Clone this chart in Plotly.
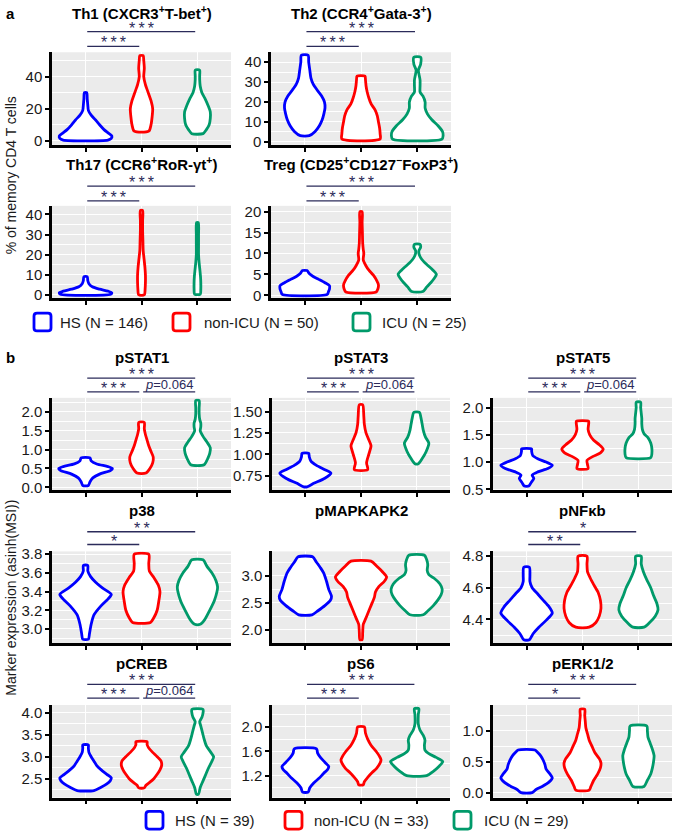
import plotly.graph_objects as go

W, H = 673, 839
groups = ["HS", "non-ICU", "ICU"]
colors = ["#0000FF", "#FF0000", "#009A6A"]
legend_a = ["HS (N = 146)", "non-ICU (N = 50)", "ICU (N = 25)"]
legend_b = ["HS (N = 39)", "non-ICU (N = 33)", "ICU (N = 29)"]

# ---- violin profiles: y levels and half-widths (category units) ----
th1_y = [[0.5, 1.5, 3, 5, 7, 10, 13, 16, 19, 22, 26, 30],
         [6, 10, 15, 20, 25, 30, 35, 40, 45, 50, 53],
         [4.5, 7, 10, 14, 18, 22, 26, 30, 34, 38, 41, 44]]
th1_w = [[0.40, 0.46, 0.47, 0.40, 0.33, 0.25, 0.18, 0.10, 0.05, 0.04, 0.03, 0.02],
         [0.13, 0.17, 0.19, 0.20, 0.17, 0.12, 0.07, 0.04, 0.05, 0.04, 0.03],
         [0.10, 0.16, 0.21, 0.23, 0.23, 0.19, 0.14, 0.08, 0.05, 0.04, 0.04, 0.04]]
th2_y = [[3, 5, 8, 11, 14, 17, 20, 23, 26, 29, 32, 36, 40, 43.5],
         [1.3, 4, 7, 10, 13, 16, 19, 22, 25, 28, 31, 33],
         [1.3, 3, 5, 8, 11, 14, 17, 20, 23, 25, 28, 31, 34, 36, 39, 42.5]]
th2_w = [[0.08, 0.18, 0.26, 0.31, 0.34, 0.36, 0.35, 0.30, 0.22, 0.15, 0.11, 0.09, 0.07, 0.06],
         [0.34, 0.34, 0.33, 0.31, 0.29, 0.25, 0.18, 0.14, 0.11, 0.09, 0.08, 0.07],
         [0.44, 0.46, 0.45, 0.37, 0.26, 0.18, 0.14, 0.14, 0.10, 0.05, 0.05, 0.05, 0.03, 0.02, 0.06, 0.06]]
th17_y = [[0.3, 1, 1.8, 2.8, 4, 5.5, 7, 9],
          [0, 3, 6, 10, 14, 18, 22, 27, 32, 37, 42],
          [0.3, 3, 6, 9, 12, 16, 20, 25, 30, 36]]
th17_w = [[0.45, 0.47, 0.40, 0.25, 0.12, 0.06, 0.04, 0.03],
          [0.05, 0.065, 0.07, 0.07, 0.06, 0.045, 0.03, 0.025, 0.02, 0.02, 0.02],
          [0.05, 0.06, 0.06, 0.055, 0.045, 0.03, 0.02, 0.02, 0.02, 0.015]]
treg_y = [[0.2, 0.8, 1.5, 2.3, 3, 3.8, 4.5, 5.2, 5.9],
          [0.8, 1.5, 2.5, 3.5, 4.8, 6, 7, 8.5, 10, 11, 12.5, 15, 17.5, 20],
          [0.9, 2, 3, 4, 5, 6, 7, 8, 9, 10, 10.7, 11.5, 12.2]]
treg_w = [[0.40, 0.42, 0.44, 0.44, 0.36, 0.25, 0.15, 0.08, 0.04],
          [0.27, 0.30, 0.31, 0.28, 0.22, 0.14, 0.09, 0.04, 0.05, 0.04, 0.03, 0.025, 0.02, 0.02],
          [0.10, 0.17, 0.24, 0.30, 0.34, 0.28, 0.20, 0.12, 0.06, 0.03, 0.03, 0.06, 0.05]]
pstat1_y = [[0.05, 0.15, 0.25, 0.35, 0.45, 0.5, 0.55, 0.62, 0.7, 0.78],
            [0.38, 0.5, 0.65, 0.8, 0.95, 1.1, 1.25, 1.4, 1.55, 1.72],
            [0.6, 0.75, 0.9, 1.05, 1.2, 1.35, 1.5, 1.6, 1.7, 1.8, 1.95, 2.1, 2.3]]
pstat1_w = [[0.05, 0.08, 0.13, 0.25, 0.45, 0.48, 0.40, 0.20, 0.10, 0.08],
            [0.08, 0.15, 0.20, 0.21, 0.17, 0.13, 0.10, 0.07, 0.05, 0.05],
            [0.12, 0.18, 0.22, 0.23, 0.17, 0.10, 0.05, 0.06, 0.06, 0.04, 0.03, 0.03, 0.03]]
pstat3_y = [[0.62, 0.66, 0.72, 0.78, 0.82, 0.87, 0.92, 0.97, 1.01],
            [0.82, 0.9, 1.0, 1.1, 1.17, 1.25, 1.35, 1.45, 1.58],
            [0.89, 0.95, 1.03, 1.13, 1.2, 1.28, 1.35, 1.42, 1.49]]
pstat3_w = [[0.03, 0.15, 0.35, 0.46, 0.35, 0.20, 0.10, 0.07, 0.06],
            [0.12, 0.10, 0.14, 0.18, 0.14, 0.09, 0.06, 0.05, 0.03],
            [0.03, 0.10, 0.17, 0.22, 0.16, 0.12, 0.10, 0.08, 0.05]]
pstat5_y = [[0.56, 0.62, 0.7, 0.76, 0.82, 0.88, 0.94, 1.0, 1.06, 1.12, 1.2, 1.24],
            [0.88, 0.95, 1.03, 1.1, 1.17, 1.24, 1.32, 1.4, 1.5, 1.6, 1.7, 1.75],
            [1.08, 1.15, 1.25, 1.35, 1.45, 1.52, 1.6, 1.7, 1.8, 1.9, 2.0, 2.1]]
pstat5_w = [[0.04, 0.08, 0.13, 0.10, 0.20, 0.38, 0.46, 0.35, 0.20, 0.11, 0.09, 0.09],
            [0.10, 0.09, 0.08, 0.18, 0.32, 0.37, 0.30, 0.20, 0.13, 0.10, 0.11, 0.11],
            [0.22, 0.24, 0.24, 0.22, 0.17, 0.10, 0.07, 0.06, 0.06, 0.05, 0.04, 0.04]]
p38_y = [[2.89, 2.95, 3.05, 3.15, 3.25, 3.32, 3.37, 3.44, 3.5, 3.56, 3.62, 3.68],
         [3.07, 3.12, 3.2, 3.3, 3.4, 3.47, 3.55, 3.62, 3.7, 3.8],
         [3.05, 3.1, 3.2, 3.3, 3.4, 3.45, 3.52, 3.6, 3.67, 3.74]]
p38_w = [[0.05, 0.07, 0.10, 0.15, 0.28, 0.40, 0.46, 0.30, 0.18, 0.09, 0.04, 0.04],
         [0.16, 0.22, 0.28, 0.31, 0.33, 0.30, 0.22, 0.14, 0.13, 0.13],
         [0.05, 0.13, 0.22, 0.30, 0.35, 0.36, 0.33, 0.26, 0.17, 0.10]]
mk2_y = [[2.28, 2.35, 2.45, 2.55, 2.62, 2.75, 2.9, 3.05, 3.15, 3.25, 3.35],
         [1.82, 1.95, 2.1, 2.2, 2.3, 2.4, 2.5, 2.6, 2.7, 2.8, 2.9, 2.98, 3.08, 3.18, 3.27],
         [2.28, 2.35, 2.45, 2.55, 2.65, 2.75, 2.85, 2.95, 3.02, 3.1, 3.2, 3.3, 3.38]]
mk2_w = [[0.12, 0.22, 0.35, 0.45, 0.47, 0.42, 0.38, 0.33, 0.27, 0.20, 0.13],
         [0.02, 0.03, 0.04, 0.08, 0.12, 0.16, 0.20, 0.24, 0.26, 0.32, 0.42, 0.46, 0.38, 0.28, 0.18],
         [0.12, 0.20, 0.30, 0.38, 0.44, 0.46, 0.42, 0.32, 0.22, 0.19, 0.20, 0.18, 0.14]]
nfkb_y = [[4.27, 4.31, 4.35, 4.39, 4.44, 4.48, 4.52, 4.56, 4.6, 4.64, 4.68, 4.73],
          [4.35, 4.38, 4.42, 4.47, 4.52, 4.57, 4.62, 4.66, 4.7, 4.75, 4.8],
          [4.35, 4.38, 4.42, 4.46, 4.5, 4.55, 4.6, 4.65, 4.7, 4.75, 4.8]]
nfkb_w = [[0.05, 0.12, 0.22, 0.34, 0.46, 0.40, 0.30, 0.20, 0.10, 0.06, 0.06, 0.05],
          [0.12, 0.24, 0.30, 0.33, 0.32, 0.28, 0.20, 0.14, 0.09, 0.08, 0.08],
          [0.10, 0.20, 0.30, 0.35, 0.33, 0.27, 0.22, 0.15, 0.09, 0.05, 0.05]]
creb_y = [[2.23, 2.3, 2.38, 2.45, 2.52, 2.6, 2.7, 2.8, 2.9, 3.0, 3.1, 3.2, 3.27],
          [2.29, 2.35, 2.42, 2.5, 2.6, 2.7, 2.8, 2.9, 3.0, 3.1, 3.2, 3.28, 3.34],
          [2.15, 2.3, 2.45, 2.6, 2.75, 2.9, 3.0, 3.1, 3.25, 3.4, 3.55, 3.7, 3.8, 3.9, 4.0, 4.08]]
creb_w = [[0.15, 0.27, 0.38, 0.44, 0.46, 0.38, 0.28, 0.20, 0.15, 0.10, 0.06, 0.05, 0.05],
          [0.05, 0.08, 0.15, 0.22, 0.28, 0.33, 0.36, 0.35, 0.28, 0.20, 0.13, 0.10, 0.10],
          [0.02, 0.05, 0.10, 0.15, 0.20, 0.26, 0.29, 0.24, 0.16, 0.12, 0.09, 0.06, 0.04, 0.08, 0.10, 0.10]]
ps6_y = [[0.93, 1.0, 1.08, 1.16, 1.24, 1.3, 1.35, 1.42, 1.5, 1.57, 1.64],
         [1.05, 1.1, 1.17, 1.25, 1.32, 1.4, 1.46, 1.52, 1.6, 1.7, 1.8, 1.9, 2.0],
         [1.2, 1.27, 1.35, 1.43, 1.5, 1.56, 1.62, 1.7, 1.78, 1.86, 1.95, 2.05, 2.2, 2.3]]
ps6_w = [[0.05, 0.08, 0.15, 0.25, 0.33, 0.40, 0.42, 0.35, 0.27, 0.22, 0.20],
         [0.04, 0.06, 0.12, 0.20, 0.28, 0.34, 0.36, 0.33, 0.27, 0.18, 0.12, 0.08, 0.06],
         [0.18, 0.30, 0.40, 0.47, 0.35, 0.22, 0.15, 0.14, 0.15, 0.12, 0.06, 0.03, 0.03, 0.04]]
erk_y = [[0.0, 0.05, 0.1, 0.17, 0.24, 0.3, 0.38, 0.45, 0.52, 0.6, 0.65, 0.69],
         [0.04, 0.1, 0.2, 0.3, 0.4, 0.48, 0.55, 0.65, 0.75, 0.85, 0.95, 1.05, 1.15, 1.25, 1.35],
         [0.1, 0.2, 0.3, 0.4, 0.5, 0.6, 0.7, 0.8, 0.9, 1.0, 1.08]]
erk_w = [[0.10, 0.17, 0.28, 0.40, 0.46, 0.42, 0.35, 0.33, 0.30, 0.25, 0.20, 0.15],
         [0.12, 0.15, 0.20, 0.27, 0.32, 0.33, 0.30, 0.22, 0.17, 0.12, 0.09, 0.06, 0.05, 0.04, 0.04],
         [0.10, 0.16, 0.22, 0.25, 0.27, 0.28, 0.25, 0.21, 0.17, 0.16, 0.15]]

SUP = lambda s: "<sup>" + s + "</sup>"
panels = [
    ("Th1 (CXCR3" + SUP("+") + "T-bet" + SUP("+") + ")", th1_y, th1_w, [-2.45, 55.1], 20, 0, "d", "a1", "a1",
     [(1, 3, 0, "***"), (1, 2, 1, "***")]),
    ("Th2 (CCR4" + SUP("+") + "Gata-3" + SUP("+") + ")", th2_y, th2_w, [-1.6, 45], 10, 0, "d", "a1", "a2",
     [(1, 3, 0, "***"), (1, 2, 1, "***")]),
    ("Th17 (CCR6" + SUP("+") + "RoR-γt" + SUP("+") + ")", th17_y, th17_w, [-1.8, 44.3], 10, 0, "d", "a2", "a1",
     [(1, 3, 0, "***"), (1, 2, 1, "***")]),
    ("Treg (CD25" + SUP("+") + "CD127" + SUP("−") + "FoxP3" + SUP("+") + ")", treg_y, treg_w, [-0.75, 21.4], 5, 0, "d", "a2", "a2",
     [(1, 3, 0, "***"), (1, 2, 1, "***")]),
    ("pSTAT1", pstat1_y, pstat1_w, [-0.08, 2.37], 0.5, 0, ".1f", "b1", "b1",
     [(1, 3, 0, "***"), (1, 2, 1, "***"), (2, 3, 1, "p")]),
    ("pSTAT3", pstat3_y, pstat3_w, [0.578, 1.66], 0.25, 0, ".2f", "b1", "b2",
     [(1, 3, 0, "***"), (1, 2, 1, "***"), (2, 3, 1, "p")]),
    ("pSTAT5", pstat5_y, pstat5_w, [0.48, 2.18], 0.5, 0, ".1f", "b1", "b3",
     [(1, 3, 0, "***"), (1, 2, 1, "***"), (2, 3, 1, "p")]),
    ("p38", p38_y, p38_w, [2.85, 3.83], 0.2, 0, ".1f", "b2", "b1",
     [(1, 3, 0, "**"), (1, 2, 1, "*")]),
    ("pMAPKAPK2", mk2_y, mk2_w, [1.76, 3.45], 0.5, 0, ".1f", "b2", "b2", []),
    ("pNFκb", nfkb_y, nfkb_w, [4.25, 4.83], 0.2, 0, ".1f", "b2", "b3",
     [(1, 3, 0, "*"), (1, 2, 1, "**")]),
    ("pCREB", creb_y, creb_w, [2.07, 4.18], 0.5, 0, ".1f", "b3", "b1",
     [(1, 3, 0, "***"), (1, 2, 1, "***"), (2, 3, 1, "p")]),
    ("pS6", ps6_y, ps6_w, [0.84, 2.36], 0.4, 0, ".1f", "b3", "b2",
     [(1, 3, 0, "***"), (1, 2, 1, "***")]),
    ("pERK1/2", erk_y, erk_w, [-0.08, 1.42], 0.5, 0, ".1f", "b3", "b3",
     [(1, 3, 0, "***"), (1, 2, 1, "*")]),
]

ROWS = {  # plot top, plot bottom, title y, sig line top, sig line 2 (pixels)
    "a1": (47, 141, 7, 26, 41),
    "a2": (203, 297, 160, 183, 198),
    "b1": (398, 492, 357, 378, 392),
    "b2": (554, 647, 512, 534, 547),
    "b3": (710, 804, 668, 689, 703),
}
COLS = {"a1": (52, 231), "a2": (271, 451), "b1": (52, 231), "b2": (272, 450), "b3": (493, 672)}

px = lambda x: x / W
py = lambda y: 1 - y / H

NAVY = "#2B2B5A"
TXT = "#1A1A1A"
FONT = "Liberation Sans, Arial, sans-serif"

fig = go.Figure()
layout = dict(width=W, height=H, margin=dict(l=0, r=0, t=0, b=0),
              paper_bgcolor="white", plot_bgcolor="#EBEBEB", showlegend=False,
              font=dict(family=FONT, color=TXT))
shapes, annotations = [], []

for i, (title, ys, ws, yr, dt, t0, tf, rk, ck, sig) in enumerate(panels):
    n = i + 1
    xa = "x" if n == 1 else f"x{n}"
    ya = "y" if n == 1 else f"y{n}"
    top, bot, ty, s1, s2 = ROWS[rk]
    x0, x1 = COLS[ck]
    layout[f"xaxis{n}"] = dict(domain=[px(x0), px(x1)], anchor=ya, range=[0.4, 3.6],
                               tickvals=[1, 2, 3], showticklabels=False, ticks="outside",
                               ticklen=4, tickwidth=2, tickcolor="black",
                               showgrid=True, gridcolor="white", gridwidth=1.4,
                               showline=True, linecolor="black", linewidth=2.5,
                               zeroline=False, fixedrange=True)
    layout[f"yaxis{n}"] = dict(domain=[py(bot), py(top)], anchor=xa, range=yr,
                               dtick=dt, tick0=t0, tickformat=tf, ticks="outside",
                               ticklen=4, tickwidth=2, tickcolor="black",
                               tickfont=dict(size=15, color=TXT, family=FONT),
                               showgrid=True, gridcolor="white", gridwidth=1.4,
                               minor=dict(dtick=dt / 2, tick0=t0, showgrid=True,
                                          gridcolor="white", gridwidth=0.7),
                               showline=True, linecolor="black", linewidth=2.5,
                               zeroline=False, fixedrange=True)
    for g in range(3):
        c = g + 1
        yy, ww = ys[g], ws[g]
        xs = [c + w for w in ww] + [c - w for w in ww[::-1]] + [c + ww[0]]
        yv = list(yy) + list(yy[::-1]) + [yy[0]]
        fig.add_trace(go.Scatter(x=xs, y=yv, xaxis=xa, yaxis=ya, mode="lines",
                                 fill="toself", fillcolor="white",
                                 line=dict(color=colors[g], width=2.8, shape="spline", smoothing=0.7),
                                 name=groups[g], hoverinfo="skip"))
    annotations.append(dict(text="<b>" + title + "</b>", x=px((x0 + x1) / 2), y=py(ty),
                            xref="paper", yref="paper", showarrow=False,
                            font=dict(size=15, color="black", family=FONT),
                            xanchor="center", yanchor="middle"))
    for (a, b, lev, lab) in sig:
        ly = s1 if lev == 0 else s2
        shapes.append(dict(type="line", xref=xa, yref="paper", x0=a + 0.03, x1=b - 0.04,
                           y0=py(ly), y1=py(ly), line=dict(color=NAVY, width=1.3)))
        if lab == "p":
            annotations.append(dict(text="<i>p</i>=0.064", xref=xa, yref="paper",
                                    x=(a + b) / 2, y=py(ly), showarrow=False,
                                    xanchor="center", yanchor="bottom", yshift=-2,
                                    font=dict(size=13, color=NAVY, family=FONT)))
        else:
            annotations.append(dict(text="\u2009".join(lab), xref=xa, yref="paper",
                                    x=(a + b) / 2, y=py(ly), showarrow=False,
                                    xanchor="center", yanchor="bottom", yshift=-7,
                                    font=dict(size=16, color=NAVY, family=FONT)))

annotations.append(dict(text="<b>a</b>", x=px(4), y=py(8), xref="paper", yref="paper",
                        showarrow=False, xanchor="left", yanchor="middle",
                        font=dict(size=15, color="black", family=FONT)))
annotations.append(dict(text="<b>b</b>", x=px(4), y=py(357), xref="paper", yref="paper",
                        showarrow=False, xanchor="left", yanchor="middle",
                        font=dict(size=15, color="black", family=FONT)))
annotations.append(dict(text="% of memory CD4 T cells", x=px(11), y=py(172), xref="paper", yref="paper",
                        showarrow=False, textangle=-90, xanchor="center", yanchor="middle",
                        font=dict(size=14, color=TXT, family=FONT)))
annotations.append(dict(text="Marker expression (asinh(MSI))", x=px(11), y=py(601), xref="paper", yref="paper",
                        showarrow=False, textangle=-90, xanchor="center", yanchor="middle",
                        font=dict(size=14, color=TXT, family=FONT)))


def rounded_box(x0, y0, x1, y1, r=3):
    # pixel rectangle with rounded corners -> paper-coordinate svg path
    P = lambda x, y: f"{px(x):.5f},{py(y):.5f}"
    return (f"M {P(x0 + r, y0)} L {P(x1 - r, y0)} Q {P(x1, y0)} {P(x1, y0 + r)} "
            f"L {P(x1, y1 - r)} Q {P(x1, y1)} {P(x1 - r, y1)} L {P(x0 + r, y1)} "
            f"Q {P(x0, y1)} {P(x0, y1 - r)} L {P(x0, y0 + r)} Q {P(x0, y0)} {P(x0 + r, y0)} Z")


def add_legend(labels, box_x, text_x, yc):
    for g in range(3):
        bx = box_x[g]
        shapes.append(dict(type="path", xref="paper", yref="paper",
                           path=rounded_box(bx, yc - 9, bx + 17, yc + 9),
                           line=dict(color=colors[g], width=2.8), fillcolor="white"))
        annotations.append(dict(text=labels[g], x=px(text_x[g]), y=py(yc), xref="paper", yref="paper",
                                showarrow=False, xanchor="left", yanchor="middle",
                                font=dict(size=15, color=TXT, family=FONT)))


add_legend(legend_a, [34, 173, 353], [58, 202, 380], 321)
add_legend(legend_b, [146, 285, 454], [173, 312, 482], 827)

layout["shapes"] = shapes
layout["annotations"] = annotations
fig.update_layout(**layout)
fig.write_html("out.html", config={"displayModeBar": False},
               post_script="document.body.style.margin='0px';")
